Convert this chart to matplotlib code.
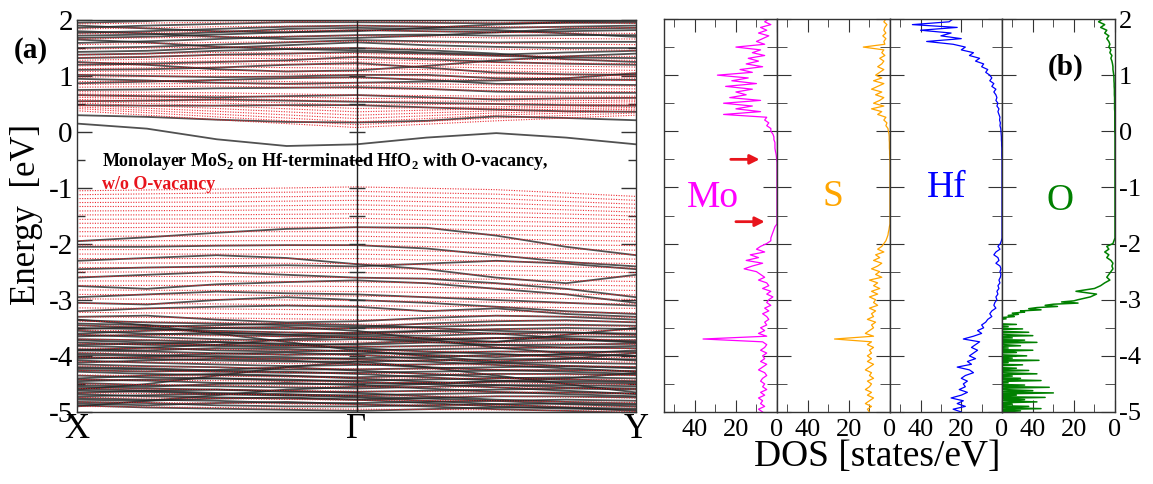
import numpy as np
import matplotlib
matplotlib.use('Agg')
import matplotlib.pyplot as plt
from matplotlib.ticker import MultipleLocator

plt.rcParams['font.family'] = 'serif'
plt.rcParams['font.serif'] = ['Liberation Serif', 'DejaVu Serif']
plt.rcParams['mathtext.fontset'] = 'custom'
plt.rcParams['mathtext.rm'] = 'Liberation Serif'
plt.rcParams['mathtext.bf'] = 'Liberation Serif:bold'
plt.rcParams['axes.unicode_minus'] = False

# ---------------- band structure data ----------------
kpath_labels = ['X', 'Γ', 'Y']
# bands with O-vacancy (black), energies (eV) at 9 equally spaced k-points X -> Γ -> Y
vac_cb = [
    [0.15, 0.06, -0.13, -0.25, -0.22, -0.10, -0.02, -0.10, -0.22],
    [0.30, 0.27, 0.22, 0.18, 0.17, 0.20, 0.28, 0.25, 0.21],
    [0.48, 0.47, 0.47, 0.48, 0.48, 0.44, 0.40, 0.37, 0.36],
    [0.55, 0.56, 0.58, 0.56, 0.54, 0.52, 0.50, 0.48, 0.47],
    [0.66, 0.64, 0.62, 0.64, 0.66, 0.62, 0.58, 0.60, 0.61],
    [0.75, 0.76, 0.78, 0.79, 0.80, 0.77, 0.72, 0.70, 0.70],
    [0.87, 0.90, 0.93, 0.96, 0.98, 0.93, 0.86, 0.85, 0.84],
    [0.95, 0.92, 0.88, 0.86, 0.88, 0.90, 0.92, 0.96, 1.05],
    [1.02, 1.00, 0.98, 0.99, 1.02, 1.02, 0.96, 0.94, 0.93],
    [1.11, 1.12, 1.15, 1.20, 1.23, 1.15, 1.06, 1.03, 1.02],
    [1.20, 1.22, 1.25, 1.28, 1.34, 1.30, 1.25, 1.22, 1.20],
    [1.25, 1.20, 1.12, 1.08, 1.10, 1.18, 1.28, 1.35, 1.40],
    [1.32, 1.34, 1.38, 1.40, 1.43, 1.40, 1.36, 1.33, 1.32],
    [1.38, 1.40, 1.45, 1.48, 1.50, 1.46, 1.40, 1.30, 1.25],
    [1.43, 1.45, 1.50, 1.55, 1.60, 1.55, 1.52, 1.50, 1.50],
    [1.50, 1.52, 1.56, 1.60, 1.64, 1.62, 1.60, 1.61, 1.61],
    [1.65, 1.60, 1.52, 1.48, 1.46, 1.42, 1.38, 1.42, 1.45],
    [1.59, 1.62, 1.66, 1.70, 1.73, 1.74, 1.72, 1.73, 1.73],
    [1.68, 1.70, 1.74, 1.78, 1.82, 1.80, 1.78, 1.80, 1.82],
    [1.72, 1.74, 1.78, 1.84, 1.86, 1.84, 1.82, 1.76, 1.70],
    [1.80, 1.76, 1.70, 1.66, 1.68, 1.72, 1.78, 1.84, 1.86],
    [1.77, 1.80, 1.84, 1.88, 1.90, 1.88, 1.86, 1.88, 1.90],
    [1.86, 1.90, 1.93, 1.96, 1.96, 1.95, 1.94, 1.95, 1.95],
    [1.90, 1.85, 1.80, 1.78, 1.80, 1.86, 1.92, 1.96, 1.98],
    [1.95, 1.98, 2.05, 2.10, 2.10, 2.05, 2.00, 1.98, 2.00],
]
vac_vb = [
    [-1.95, -1.88, -1.80, -1.73, -1.70, -1.71, -1.85, -2.05, -2.20],
    [-2.05, -2.05, -2.03, -2.02, -2.02, -2.08, -2.20, -2.32, -2.40],
    [-2.30, -2.25, -2.20, -2.25, -2.36, -2.45, -2.60, -2.70, -2.55],
    [-2.45, -2.42, -2.40, -2.38, -2.40, -2.35, -2.30, -2.35, -2.45],
    [-2.60, -2.55, -2.50, -2.55, -2.60, -2.62, -2.70, -2.80, -2.95],
    [-2.75, -2.80, -2.72, -2.68, -2.65, -2.70, -2.80, -2.90, -3.05],
    [-2.95, -2.90, -2.85, -2.88, -2.90, -2.95, -3.00, -3.05, -3.10],
    [-3.05, -3.08, -3.00, -2.95, -3.00, -3.05, -3.12, -3.20, -3.25],
    [-3.20, -3.15, -3.12, -3.10, -3.12, -3.20, -3.15, -3.25, -3.30],
    [-3.30, -3.28, -3.35, -3.40, -3.38, -3.32, -3.28, -3.30, -3.35],
    [-3.36, -3.40, -3.42, -3.45, -3.48, -3.42, -3.38, -3.36, -3.40],
    [-3.42, -3.45, -3.50, -3.52, -3.50, -3.48, -3.45, -3.44, -3.46],
    [-3.45, -3.50, -3.58, -3.62, -3.58, -3.55, -3.60, -3.68, -3.75],
    [-3.50, -3.52, -3.55, -3.58, -3.60, -3.56, -3.52, -3.50, -3.52],
    [-3.52, -3.48, -3.45, -3.42, -3.45, -3.50, -3.55, -3.58, -3.62],
    [-3.55, -3.60, -3.62, -3.65, -3.62, -3.64, -3.60, -3.58, -3.60],
    [-3.62, -3.66, -3.70, -3.72, -3.70, -3.70, -3.68, -3.65, -3.66],
    [-3.65, -3.62, -3.58, -3.62, -3.68, -3.75, -3.80, -3.85, -3.82],
    [-3.70, -3.72, -3.75, -3.78, -3.80, -3.76, -3.74, -3.72, -3.72],
    [-3.72, -3.76, -3.80, -3.82, -3.78, -3.72, -3.68, -3.70, -3.76],
    [-3.76, -3.80, -3.82, -3.85, -3.84, -3.82, -3.80, -3.80, -3.78],
    [-3.80, -3.78, -3.75, -3.80, -3.86, -3.92, -3.96, -4.02, -4.08],
    [-3.82, -3.85, -3.90, -3.92, -3.90, -3.88, -3.86, -3.85, -3.86],
    [-3.88, -3.90, -3.86, -3.88, -3.92, -3.98, -4.02, -3.96, -3.90],
    [-3.90, -3.92, -3.95, -3.98, -3.96, -3.95, -3.92, -3.92, -3.93],
    [-3.95, -3.98, -4.02, -4.05, -4.04, -4.02, -3.98, -3.98, -4.00],
    [-3.98, -4.00, -3.96, -3.94, -3.98, -4.05, -4.12, -4.18, -4.22],
    [-4.02, -4.05, -4.08, -4.10, -4.10, -4.08, -4.06, -4.05, -4.06],
    [-4.05, -4.02, -4.00, -4.02, -4.06, -4.10, -4.16, -4.22, -4.28],
    [-4.08, -4.12, -4.15, -4.18, -4.16, -4.15, -4.12, -4.12, -4.14],
    [-4.12, -4.08, -4.05, -4.08, -4.14, -4.20, -4.25, -4.28, -4.32],
    [-4.15, -4.18, -4.20, -4.24, -4.24, -4.22, -4.20, -4.18, -4.20],
    [-4.20, -4.22, -4.26, -4.28, -4.32, -4.38, -4.44, -4.48, -4.50],
    [-4.22, -4.24, -4.28, -4.30, -4.30, -4.28, -4.26, -4.25, -4.27],
    [-4.25, -4.28, -4.25, -4.20, -4.26, -4.32, -4.38, -4.42, -4.45],
    [-4.28, -4.32, -4.34, -4.36, -4.38, -4.35, -4.32, -4.32, -4.34],
    [-4.35, -4.38, -4.40, -4.44, -4.44, -4.42, -4.40, -4.38, -4.40],
    [-4.40, -4.35, -4.32, -4.35, -4.40, -4.46, -4.52, -4.56, -4.58],
    [-4.42, -4.44, -4.48, -4.50, -4.50, -4.48, -4.46, -4.45, -4.47],
    [-4.45, -4.42, -4.40, -4.42, -4.46, -4.50, -4.56, -4.62, -4.68],
    [-4.48, -4.52, -4.54, -4.56, -4.58, -4.55, -4.52, -4.52, -4.54],
    [-4.52, -4.55, -4.50, -4.48, -4.52, -4.58, -4.64, -4.68, -4.72],
    [-4.55, -4.58, -4.60, -4.64, -4.64, -4.62, -4.60, -4.58, -4.60],
    [-4.58, -4.62, -4.66, -4.68, -4.72, -4.76, -4.80, -4.86, -4.90],
    [-4.62, -4.64, -4.68, -4.70, -4.70, -4.68, -4.66, -4.65, -4.67],
    [-4.66, -4.62, -4.60, -4.62, -4.66, -4.72, -4.78, -4.82, -4.85],
    [-4.68, -4.72, -4.74, -4.76, -4.78, -4.75, -4.72, -4.72, -4.74],
    [-4.72, -4.70, -4.68, -4.70, -4.74, -4.80, -4.86, -4.92, -4.98],
    [-4.75, -4.78, -4.80, -4.84, -4.84, -4.82, -4.80, -4.78, -4.80],
    [-4.78, -4.80, -4.76, -4.74, -4.78, -4.84, -4.90, -4.94, -4.96],
    [-4.82, -4.84, -4.88, -4.90, -4.90, -4.88, -4.86, -4.85, -4.87],
    [-4.85, -4.88, -4.84, -4.82, -4.86, -4.90, -4.95, -4.98, -5.02],
    [-4.88, -4.92, -4.94, -4.96, -4.98, -4.95, -4.92, -4.92, -4.94],
    [-3.35, -3.45, -3.60, -3.75, -3.90, -4.00, -4.10, -4.05, -3.95],
    [-4.60, -4.50, -4.35, -4.20, -4.10, -4.20, -4.35, -4.50, -4.65],
    [-3.60, -3.55, -3.50, -3.48, -3.55, -3.70, -3.85, -3.95, -4.00],
    [-4.90, -4.80, -4.70, -4.60, -4.55, -4.50, -4.45, -4.40, -4.30],
    [-3.90, -3.85, -3.80, -3.70, -3.65, -3.68, -3.75, -3.62, -3.50],
]
# bands without O-vacancy (red dotted), energies at 5 k-points X, mid, Γ, mid, Y
novac = [
    [0.38, 0.22, 0.08, 0.20, 0.30],
    [0.42, 0.27, 0.13, 0.25, 0.34],
    [0.45, 0.32, 0.18, 0.30, 0.38],
    [0.48, 0.37, 0.24, 0.34, 0.41],
    [0.52, 0.42, 0.30, 0.38, 0.44],
    [0.55, 0.47, 0.36, 0.42, 0.47],
    [0.58, 0.52, 0.42, 0.45, 0.50],
    [0.62, 0.56, 0.48, 0.50, 0.54],
    [0.65, 0.60, 0.55, 0.55, 0.57],
    [0.68, 0.65, 0.60, 0.60, 0.61],
    [0.72, 0.70, 0.66, 0.64, 0.64],
    [0.80, 0.82, 0.78, 0.74, 0.72],
    [0.85, 0.87, 0.83, 0.79, 0.77],
    [0.90, 0.92, 0.88, 0.84, 0.82],
    [0.98, 1.00, 0.96, 0.93, 0.92],
    [1.03, 1.05, 1.02, 0.98, 0.96],
    [1.08, 1.10, 1.08, 1.04, 1.00],
    [1.13, 1.16, 1.14, 1.09, 1.05],
    [1.18, 1.22, 1.20, 1.14, 1.10],
    [1.23, 1.27, 1.25, 1.19, 1.16],
    [1.28, 1.32, 1.30, 1.24, 1.22],
    [1.33, 1.37, 1.35, 1.30, 1.28],
    [1.38, 1.42, 1.40, 1.36, 1.35],
    [1.48, 1.52, 1.50, 1.48, 1.46],
    [1.56, 1.60, 1.62, 1.58, 1.56],
    [1.66, 1.70, 1.72, 1.68, 1.66],
    [1.75, 1.80, 1.82, 1.78, 1.76],
    [1.84, 1.88, 1.90, 1.88, 1.86],
    [1.93, 1.96, 1.98, 1.96, 1.94],
    [-1.05, -1.02, -0.98, -1.03, -1.15],
    [-1.12, -1.09, -1.06, -1.11, -1.22],
    [-1.19, -1.17, -1.14, -1.19, -1.29],
    [-1.26, -1.25, -1.22, -1.27, -1.36],
    [-1.33, -1.33, -1.30, -1.35, -1.43],
    [-1.41, -1.40, -1.38, -1.43, -1.50],
    [-1.48, -1.48, -1.46, -1.51, -1.57],
    [-1.56, -1.55, -1.54, -1.59, -1.64],
    [-1.63, -1.63, -1.62, -1.67, -1.71],
    [-1.71, -1.70, -1.70, -1.75, -1.79],
    [-1.78, -1.78, -1.78, -1.83, -1.87],
    [-1.86, -1.86, -1.86, -1.91, -1.95],
    [-1.94, -1.94, -1.94, -1.99, -2.03],
    [-2.02, -2.02, -2.02, -2.07, -2.11],
    [-2.10, -2.10, -2.10, -2.15, -2.19],
    [-2.18, -2.18, -2.18, -2.23, -2.27],
    [-2.26, -2.26, -2.26, -2.31, -2.35],
    [-2.34, -2.34, -2.35, -2.39, -2.43],
    [-2.42, -2.42, -2.43, -2.47, -2.51],
    [-2.50, -2.50, -2.51, -2.55, -2.59],
    [-2.58, -2.58, -2.60, -2.63, -2.67],
    [-2.66, -2.66, -2.68, -2.71, -2.75],
    [-2.74, -2.74, -2.76, -2.79, -2.83],
    [-2.82, -2.83, -2.85, -2.88, -2.91],
    [-2.90, -2.91, -2.93, -2.96, -2.99],
    [-2.98, -2.99, -3.01, -3.04, -3.07],
    [-3.06, -3.07, -3.10, -3.12, -3.15],
    [-3.14, -3.16, -3.18, -3.20, -3.23],
    [-3.22, -3.24, -3.27, -3.28, -3.31],
    [-3.30, -3.32, -3.35, -3.36, -3.39],
    [-3.38, -3.40, -3.43, -3.44, -3.47],
    [-3.46, -3.48, -3.51, -3.52, -3.55],
    [-3.54, -3.56, -3.59, -3.60, -3.63],
    [-3.62, -3.64, -3.67, -3.68, -3.71],
    [-3.70, -3.72, -3.75, -3.76, -3.79],
    [-3.78, -3.80, -3.83, -3.84, -3.87],
    [-3.86, -3.88, -3.91, -3.92, -3.95],
    [-3.94, -3.96, -3.99, -4.00, -4.03],
    [-4.02, -4.04, -4.07, -4.08, -4.11],
    [-4.10, -4.12, -4.15, -4.16, -4.19],
    [-4.18, -4.20, -4.23, -4.24, -4.27],
    [-4.26, -4.28, -4.31, -4.32, -4.35],
    [-4.34, -4.36, -4.39, -4.40, -4.43],
    [-4.42, -4.44, -4.47, -4.48, -4.51],
    [-4.50, -4.52, -4.55, -4.56, -4.59],
    [-4.58, -4.60, -4.63, -4.64, -4.67],
    [-4.66, -4.68, -4.71, -4.72, -4.75],
    [-4.74, -4.76, -4.79, -4.80, -4.83],
    [-4.82, -4.84, -4.87, -4.88, -4.91],
    [-4.90, -4.92, -4.95, -4.96, -4.99],
]

# ---------------- DOS data (states/eV), energies from 2.0 down to -5.0 eV, 0.05 eV step ----------------
dos_mo = [4, 6, 3, 8, 5, 9, 4, 7, 10, 6, 20,
          8, 12, 6, 14, 9, 15, 7, 18, 12, 29,
          14, 22, 10, 25, 12, 20, 15, 23, 8, 26,
          12, 20, 8, 26, 5, 6, 4, 5, 3, 3,
          2, 1.5, 1.5, 1, 1, 1, 0.8, 0.5, 0.3, 0.2,
          0, 0, 0, 0, 0, 0, 0, 0, 0, 0, 0, 0, 0, 0, 0, 0, 0, 0, 0, 0, 0, 0, 0,
          1, 1.5, 2, 2.5, 3, 3, 5,
          8, 10, 6, 13, 9, 15, 7, 12, 16, 10,
          8, 6, 9, 5, 4, 7, 3, 5, 2, 4,
          5, 3, 6, 4, 7, 5, 4, 6, 5, 8,
          6, 9, 5, 36, 7, 5, 6, 8, 5, 7,
          6, 8, 5, 7, 9, 6, 5, 7, 8, 6,
          7, 5, 8, 6, 9, 7, 8, 6, 9, 7]
dos_s = [2, 3, 1.5, 2.5, 3, 2, 3.5, 2, 3, 2.5, 13,
         3, 4, 2.5, 5, 3, 4, 6, 3, 5, 7,
         4, 8, 3, 6, 9, 4, 7, 3, 5, 8,
         3, 9, 4, 6, 2, 3, 1.5, 2, 1, 0.8,
         0.5, 0.4, 0.4, 0.3, 0.3, 0.3, 0.2, 0.2, 0.1, 0.1,
         0, 0, 0, 0, 0, 0, 0, 0, 0, 0, 0, 0, 0, 0, 0, 0, 0, 0, 0, 0, 0, 0, 0,
         0.3, 0.5, 0.8, 1, 1.5, 2, 3,
         4, 6, 3, 7, 5, 8, 4, 6, 9, 5,
         7, 4, 10, 6, 8, 5, 9, 6, 10, 7,
         8, 6, 10, 7, 9, 8, 11, 7, 9, 8,
         10, 12, 8, 27, 9, 11, 8, 10, 9, 11,
         9, 11, 8, 10, 12, 9, 10, 8, 11, 9,
         10, 12, 9, 11, 8, 10, 12, 9, 11, 10]
dos_hf = [24, 26, 44, 22, 40, 25, 30, 20, 37, 24, 18,
          20, 14, 16, 11, 13, 9, 10, 7, 8, 6,
          5, 6, 4, 5, 3, 4, 3, 2.5, 3, 2,
          2.5, 1.5, 2, 1.5, 1, 1.2, 0.8, 1, 0.6, 0.5,
          0.4, 0.3, 0.3, 0.2, 0.2, 0.1, 0.1, 0.1, 0.1, 0,
          0, 0, 0, 0, 0, 0, 0, 0, 0, 0, 0, 0, 0, 0, 0, 0, 0, 0, 0, 0, 0, 0, 0,
          0, 0, 0, 0, 0, 0.3, 0.8,
          2, 1, 3, 4, 2, 1.5, 3, 1, 0.5, 1,
          0.5, 0.8, 1.5, 1, 2, 1.5, 2.5, 2, 3, 2.5,
          3.5, 4, 3, 5, 6, 5, 7, 8, 10, 9,
          12, 10, 14, 19, 11, 13, 15, 12, 14, 16,
          13, 17, 15, 22, 16, 14, 18, 20, 17, 19,
          18, 21, 17, 20, 25, 19, 22, 18, 24, 20]
# O: 2.0 .. -3.0 eV at 0.05 eV step, then -3.02 .. -5.0 eV at 0.02 eV step
dos_o_hi = [6, 8, 5, 7, 4, 5, 3, 4, 3, 2.5, 3,
            2, 2.5, 1.5, 2, 1.5, 1.2, 1, 1, 0.8, 0.6,
            0.5, 0.5, 0.4, 0.4, 0.3, 0.3, 0.3, 0.2, 0.2, 0.2,
            0.2, 0.2, 0.1, 0.1, 0.1, 0.1, 0.1, 0.1, 0.1, 0.1,
            0, 0, 0, 0, 0, 0, 0, 0, 0, 0,
            0, 0, 0, 0, 0, 0, 0, 0, 0, 0, 0, 0, 0, 0, 0, 0, 0, 0, 0, 0, 0, 0, 0,
            0, 0, 0, 0, 0, 0.5, 1,
            4, 3, 5, 3, 4, 2, 1, 1.5, 1, 2,
            3, 4, 2.5, 5, 7, 10, 19, 9, 12, 18]
dos_o_lo = [20, 26, 18, 30, 34, 28, 38, 42, 36, 46,
            44, 50, 47, 52, 49, 56, 53, 58, 60, 55,
            62, 48, 66, 52, 70, 45, 64, 58, 42, 68,
            55, 40, 63, 50, 72, 44, 60, 38, 66, 54,
            46, 64, 52, 70, 40, 58, 48, 66, 56, 43,
            62, 50, 68, 37, 60, 52, 70, 45, 58, 64,
            48, 66, 42, 60, 55, 38, 64, 50, 68, 46,
            58, 36, 62, 52, 70, 44, 66, 32, 60, 54,
            40, 64, 30, 58, 48, 68, 34, 62, 44, 56,
            38, 60, 50, 66, 42, 58, 36, 64, 46, 55]
dos_names = ['Mo', 'S', 'Hf', 'O']
dos_colors = ['#ff00ff', '#ffa500', '#0000ff', '#008000']
dos_ticks = [0, 20, 40]

# ---------------- figure ----------------
W, H = 1153, 484
fig = plt.figure(figsize=(W / 100, H / 100), dpi=100)


def frac(l, t, r, b):
    return [l / W, 1 - b / H, (r - l) / W, (b - t) / H]


spine_c = '#333333'
red_c = '#e8141c'

# ----- panel (a): band structure -----
ax = fig.add_axes(frac(77, 20, 636, 412))
k9 = np.linspace(0, 1, 9)
k5 = np.linspace(0, 1, 5)
for band in vac_cb + vac_vb:
    ax.plot(k9, band, color='#262626', lw=1.3, alpha=0.8)
for band in novac:
    ax.plot(k5, band, color=red_c, lw=0.8, ls=(0, (1, 1.3)), alpha=0.9)
ax.axvline(0.5, color='#222222', lw=1.0)
gmarks = np.arange(-4.5, 2.0, 0.5)
ax.plot(np.full(len(gmarks), 0.5), gmarks, ls='none', marker='_', ms=12, mew=1.0, color='#333333')
ax.set_xlim(0, 1)
ax.set_ylim(-5, 2)
ax.set_xticks([0, 0.5, 1])
ax.set_xticklabels(kpath_labels)
ax.tick_params(axis='x', length=0, labelsize=25, pad=1)
ax.yaxis.set_major_locator(MultipleLocator(1))
ax.yaxis.set_minor_locator(MultipleLocator(0.5))
ax.tick_params(axis='y', which='both', direction='in', left=True, right=True, labelsize=21,
               color=spine_c, pad=3)
ax.tick_params(axis='y', which='major', length=11, width=1)
ax.tick_params(axis='y', which='minor', length=6, width=1)
for s in ax.spines.values():
    s.set_color(spine_c)
    s.set_linewidth(1.0)

ax.text(0.045, -0.52, r'Monolayer MoS$_\mathbf{2}$ on Hf-terminated HfO$_\mathbf{2}$ with O-vacancy,',
        fontsize=13, fontweight='bold', color='black', ha='left', va='center')
ax.text(0.045, -0.93, 'w/o O-vacancy', fontsize=13, fontweight='bold', color=red_c,
        ha='left', va='center')

fig.text(27 / W, 1 - 214 / H, 'Energy  [eV]', rotation=90, fontsize=25, ha='center', va='center')
fig.text(31 / W, 1 - 50 / H, '(a)', fontsize=21, fontweight='bold', ha='center', va='center')

# ----- panel (b): projected DOS -----
edges = [664, 777, 890, 1002, 1115]
E_main = np.linspace(2.0, -5.0, len(dos_mo))
E_o_hi = np.linspace(2.0, -3.0, len(dos_o_hi))
E_o_lo = np.linspace(-3.02, -5.0, len(dos_o_lo))
curves = [
    (dos_mo, E_main),
    (dos_s, E_main),
    (dos_hf, E_main),
    (dos_o_hi + dos_o_lo, np.concatenate([E_o_hi, E_o_lo])),
]
line_w = [0.9, 0.9, 0.9, 1.1]
label_pos = [(31, -1.19), (28, -1.17), (27, -1.0), (27, -1.23)]
for i in range(4):
    a = fig.add_axes(frac(edges[i], 19, edges[i + 1], 412))
    vals, Ei = curves[i]
    a.plot(vals, Ei, color=dos_colors[i], lw=line_w[i])
    a.set_xlim(55, 0)
    a.set_ylim(-5, 2)
    a.set_xticks(dos_ticks)
    a.set_xticks([10, 30, 50], minor=True)
    a.yaxis.set_major_locator(MultipleLocator(1))
    a.yaxis.set_minor_locator(MultipleLocator(0.5))
    a.tick_params(axis='both', which='both', direction='in', top=True, bottom=True,
                  left=True, right=True, color=spine_c, labelsize=19)
    a.tick_params(axis='x', which='major', length=9, pad=5)
    a.tick_params(axis='x', which='minor', length=6)
    a.tick_params(axis='y', which='major', length=10)
    a.tick_params(axis='y', which='minor', length=7)
    a.tick_params(axis='y', labelleft=False, labelright=(i == 3), pad=3)
    for s in a.spines.values():
        s.set_color(spine_c)
        s.set_linewidth(1.0)
    lx, ly = label_pos[i]
    a.text(lx, ly, dos_names[i], color=dos_colors[i], fontsize=27, ha='center', va='center')
    if i == 0:
        a.annotate('', xy=(8.5, -0.5), xytext=(22.5, -0.5),
                   arrowprops=dict(arrowstyle='-|>', color=red_c, lw=2, mutation_scale=14,
                                   shrinkA=0, shrinkB=0))
        a.annotate('', xy=(6.0, -1.61), xytext=(20.0, -1.61),
                   arrowprops=dict(arrowstyle='-|>', color=red_c, lw=2, mutation_scale=14,
                                   shrinkA=0, shrinkB=0))
    if i == 3:
        a.text(24, 1.14, '(b)', fontsize=21, fontweight='bold', ha='center', va='center')

fig.text(877 / W, 1 - 457 / H, 'DOS [states/eV]', fontsize=27, ha='center', va='center')

fig.savefig('out.png', dpi=100)
